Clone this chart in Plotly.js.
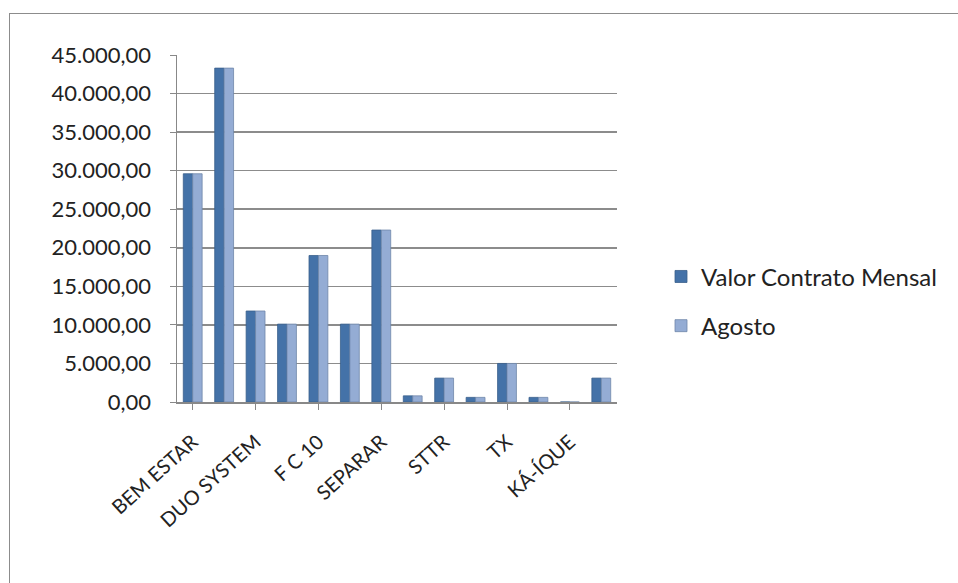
<!DOCTYPE html>
<html>
<head>
<meta charset="utf-8">
<script src="https://cdn.plot.ly/plotly-3.0.1.min.js"></script>
<style>
  html, body { margin: 0; padding: 0; background: #fff; }
  #chart { position: absolute; left: 0; top: 0; width: 958px; height: 583px; }
  #frame { position: absolute; left: 9px; top: 13px; width: 1000px; height: 600px; border: 1.5px solid #8c8c8c; pointer-events: none; }
</style>
</head>
<body>
<div id="chart"></div>
<div id="frame"></div>
<script>
// Categories (only every second name is shown on the axis)
const categories = ["BEM ESTAR", "Cat 2", "DUO SYSTEM", "Cat 4", "F C 10", "Cat 6", "SEPARAR",
                    "Cat 8", "STTR", "Cat 10", "TX", "Cat 12", "KÁ-ÍQUE", "Cat 14"];
const shownLabels = ["BEM ESTAR", "DUO SYSTEM", "F C 10", "SEPARAR", "STTR", "TX", "KÁ-ÍQUE"];
const valorContratoMensal = [29600, 43300, 11800, 10100, 19000, 10100, 22300, 800, 3100, 600, 5000, 600, 0, 3100];
const agosto              = [29600, 43300, 11800, 10100, 19000, 10100, 22300, 800, 3100, 600, 5000, 600, 0, 3100];
const yTicks = [0, 5000, 10000, 15000, 20000, 25000, 30000, 35000, 40000, 45000];
const yTickText = ["0,00", "5.000,00", "10.000,00", "15.000,00", "20.000,00", "25.000,00",
                   "30.000,00", "35.000,00", "40.000,00", "45.000,00"];

const font = "Lato, 'Open Sans', sans-serif";
const data = [
  {
    type: "bar", name: "Valor Contrato Mensal", x: categories, y: valorContratoMensal,
    legendgroup: "a",
    marker: { color: "#4472a8", line: { color: "#3a5f8c", width: 0.8 } }
  },
  {
    type: "bar", name: "Agosto", x: categories, y: agosto,
    legendgroup: "b",
    marker: { color: "#94acd4", line: { color: "#6f86aa", width: 0.8 } }
  }
];

const layout = {
  width: 958, height: 583,
  margin: { l: 177, r: 341, t: 55, b: 181 },
  paper_bgcolor: "#fff", plot_bgcolor: "#fff",
  barmode: "group", bargap: 0.4, bargroupgap: 0,
  showlegend: true,
  legend: {
    x: 1.10, y: 0.29, xanchor: "left", yanchor: "middle",
    font: { family: font, size: 24, color: "#222" },
    tracegroupgap: 15, itemwidth: 30
  },
  font: { family: font, size: 21, color: "#222" },
  xaxis: {
    type: "category",
    tickmode: "array", tickvals: shownLabels, ticktext: shownLabels,
    tickangle: -42, tickfont: { family: font, size: 20, color: "#222" },
    showline: true, linecolor: "#888", linewidth: 1.5,
    ticks: "outside", ticklen: 6, tickcolor: "#888",
    ticklabelstandoff: 13,
    showgrid: false, fixedrange: true
  },
  yaxis: {
    range: [0, 45000],
    tickmode: "array", tickvals: yTicks, ticktext: yTickText,
    tickfont: { family: font, size: 22, color: "#222" },
    showline: true, linecolor: "#888", linewidth: 1.5,
    ticks: "outside", ticklen: 6, tickcolor: "#888",
    ticklabelstandoff: 14,
    showgrid: true, gridcolor: "#8c8c8c", gridwidth: 1.5,
    zeroline: false, fixedrange: true
  }
};

Plotly.newPlot("chart", data, layout, { displayModeBar: false, staticPlot: true });
</script>
</body>
</html>
